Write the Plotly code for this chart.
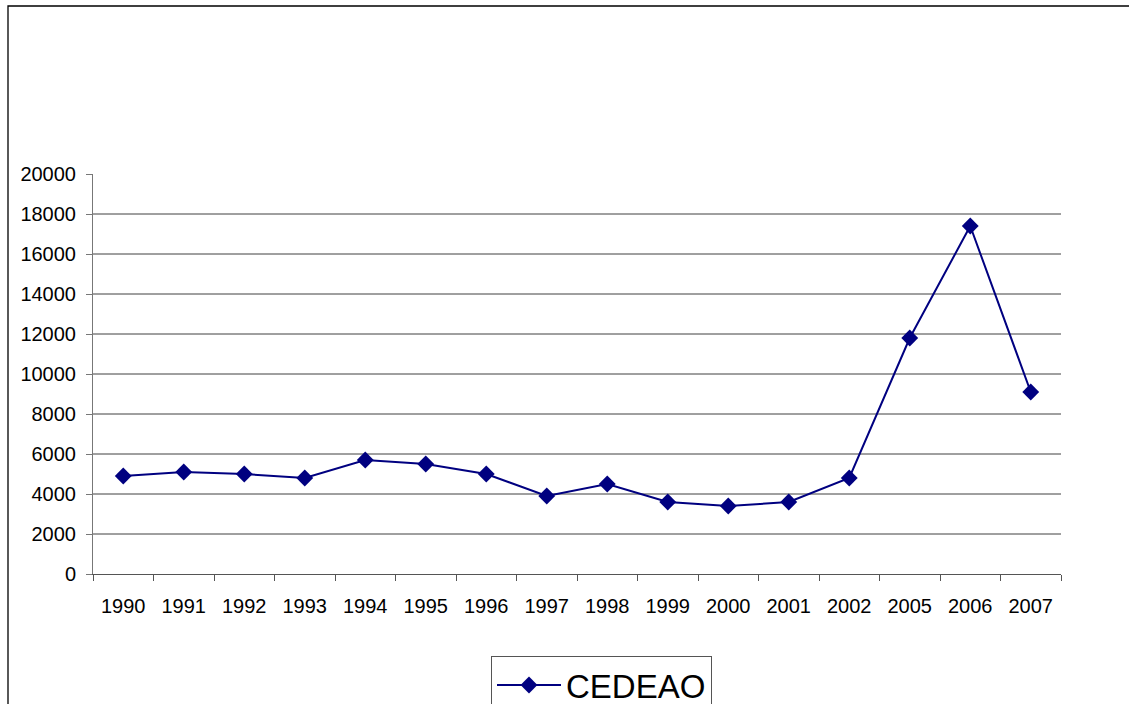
import plotly.graph_objects as go

years = ["1990", "1991", "1992", "1993", "1994", "1995", "1996", "1997",
         "1998", "1999", "2000", "2001", "2002", "2005", "2006", "2007"]
cedeao = [4900, 5100, 5000, 4800, 5700, 5500, 5000, 3900,
          4500, 3600, 3400, 3600, 4800, 11800, 17400, 9100]
y_ticks = list(range(0, 20001, 2000))
grid_vals = list(range(2000, 20000, 2000))

W, H = 1129, 704
L, R, T, B = 93, 68, 174, 130
pw, ph = W - L - R, H - T - B

fig = go.Figure()
fig.add_trace(go.Scatter(
    x=years, y=cedeao, mode="lines+markers", name="CEDEAO",
    line=dict(color="#000080", width=2),
    marker=dict(symbol="diamond", size=13, color="#000080"),
))

shapes = [dict(type="line", xref="paper", yref="y", x0=0, x1=1, y0=v, y1=v,
               line=dict(color="#404040", width=1), layer="below")
          for v in grid_vals]
# outer chart border
shapes.append(dict(type="rect", xref="paper", yref="paper",
                   x0=(8 - L) / pw, x1=(W + 10 - L) / pw,
                   y0=(H - B - (H + 10)) / ph, y1=(H - B - 6) / ph,
                   line=dict(color="#000000", width=1.3), fillcolor="rgba(0,0,0,0)"))

fig.update_layout(
    width=W, height=H,
    margin=dict(l=L, r=R, t=T, b=B, autoexpand=False),
    paper_bgcolor="white", plot_bgcolor="white",
    font=dict(family="Liberation Sans, Arial, sans-serif", color="black", size=20),
    shapes=shapes,
    showlegend=True,
    legend=dict(
        x=(491 - L) / pw, y=(H - B - 656) / ph, xanchor="left", yanchor="top",
        orientation="h", bordercolor="#555555", borderwidth=1,
        font=dict(size=33, color="black"), itemwidth=64,
        bgcolor="white",
    ),
    xaxis=dict(
        type="category", range=[-0.5, len(years) - 0.5], automargin=False,
        showgrid=False, showline=True, linecolor="#555555", linewidth=1,
        ticks="outside", tickson="boundaries", ticklen=6, tickcolor="#555555",
        tickfont=dict(size=20), zeroline=False, ticklabelstandoff=14,
    ),
    yaxis=dict(
        range=[0, 20000], tickvals=y_ticks, ticktext=[str(v) for v in y_ticks],
        automargin=False,
        showgrid=False, showline=True, linecolor="#777777", linewidth=1,
        ticks="outside", ticklen=6, tickcolor="#777777",
        tickfont=dict(size=20), zeroline=False, ticklabelstandoff=6,
    ),
)

post = (
    "document.body.style.margin='0';document.body.style.padding='0';"
    "document.body.style.overflow='hidden';"
)
fig.write_html("out.html", config={"displayModeBar": False}, post_script=post)
